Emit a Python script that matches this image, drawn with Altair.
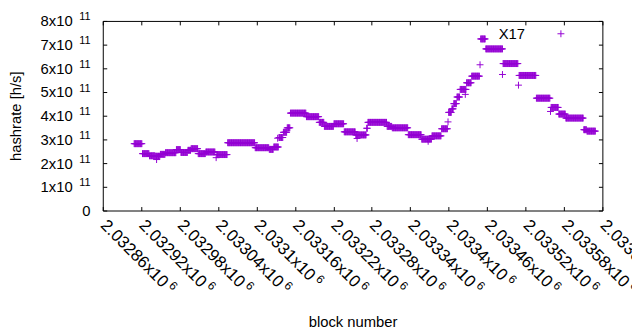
import altair as alt
import pandas as pd

BASE = 2032860  # first block on the x axis

# Runs of constant hashrate: first block offset, last block offset (inclusive), hashrate in 1e11 h/s
seg_start = [49, 62, 73, 82, 90, 98, 115, 122, 133, 138, 149, 161, 178, 195, 238, 260, 267, 275, 282, 288,
             293, 318, 338, 346, 361, 377, 395, 412, 414, 444, 452, 477, 498, 514, 529, 540, 545, 548, 553,
             558, 568, 576, 590, 598, 625, 650, 677, 700, 712, 723, 751, 756]
seg_end = [61, 72, 81, 89, 97, 114, 121, 132, 137, 148, 160, 175, 194, 237, 259, 266, 274, 281, 287, 292,
           317, 337, 345, 360, 376, 394, 411, 413, 443, 451, 476, 497, 513, 528, 538, 544, 547, 552, 557,
           567, 575, 588, 597, 624, 648, 676, 698, 711, 722, 750, 755, 769]
seg_value = [2.82, 2.40, 2.31, 2.29, 2.37, 2.44, 2.57, 2.45, 2.54, 2.61, 2.40, 2.47, 2.36, 2.86, 2.65, 2.58,
             2.68, 3.08, 3.30, 3.49, 4.11, 3.96, 3.72, 3.55, 3.66, 3.32, 3.19, 3.47, 3.72, 3.55, 3.49, 3.20,
             3.01, 3.15, 3.45, 4.14, 4.29, 4.51, 4.79, 5.11, 5.39, 5.67, 7.24, 6.82, 6.20, 5.70, 4.74, 4.35,
             4.07, 3.90, 3.41, 3.35]

# Isolated blocks off their run
iso_offset = [84, 177, 273, 397, 508, 539, 566, 589, 624, 649, 699]
iso_value = [2.15, 2.23, 3.05, 3.04, 2.92, 3.74, 4.90, 6.15, 5.74, 5.29, 4.18]

x_ticks = [2032860, 2032920, 2032980, 2033040, 2033100, 2033160, 2033220,
           2033280, 2033340, 2033400, 2033460, 2033520, 2033580, 2033640]
x_ticks_short = [2033100, 2033400]  # labels with one digit fewer (2.0331, 2.0334)
x_ticks_long = [t for t in x_ticks if t not in x_ticks_short]
y_ticks = [0, 1e11, 2e11, 3e11, 4e11, 5e11, 6e11, 7e11, 8e11]

rows = []
for s, e, v in zip(seg_start, seg_end, seg_value):
    for b in range(s, e + 1):
        rows.append({"block": BASE + b, "hashrate": v * 1e11, "series": "X17"})
for o, v in zip(iso_offset, iso_value):
    rows.append({"block": BASE + o, "hashrate": v * 1e11, "series": "X17"})
df = pd.DataFrame(rows)

PLUS = "M-1,0L1,0M0,-1L0,1"
COLOR = "#9400D3"
FONT = "Liberation Sans"
FS = 15
XFS = 17
SUP = 11
XSUP = 12

xscale = alt.Scale(domain=[x_ticks[0], x_ticks[-1]], nice=False, zero=False)
yscale = alt.Scale(domain=[y_ticks[0], y_ticks[-1]], nice=False)

x_label_expr = "format(datum.value / 1e6, '.6~g') + 'x10'"
y_label_expr = "datum.value == 0 ? '' : format(datum.value / 1e11, 'd') + 'x10'"

common = dict(domain=False, grid=False, labelOverlap=False, labelFlush=False, labelBound=False)

points = alt.Chart(df).mark_point(
    shape=PLUS, filled=False, size=49, strokeWidth=1, opacity=1
).encode(
    x=alt.X("block:Q", scale=xscale, axis=alt.Axis(
        orient="bottom", values=x_ticks, labelExpr=x_label_expr, labelAngle=45, labelAlign="left",
        labelBaseline="middle", labelPadding=12, labelFontSize=XFS, tickSize=0, ticks=False,
        title="block number", titlePadding=25, **common)),
    y=alt.Y("hashrate:Q", scale=yscale, axis=alt.Axis(
        orient="left", values=y_ticks, labelExpr=y_label_expr, tickSize=0, ticks=False,
        title="hashrate [h/s]", labelPadding=31, titlePadding=17, **common)),
    color=alt.Color("series:N", scale=alt.Scale(range=[COLOR]), legend=alt.Legend(
        title="X17", titleOrient="left", labelExpr="''", orient="none",
        legendX=401, legendY=8, symbolType=PLUS, symbolSize=49, symbolStrokeWidth=1,
        symbolOpacity=1, titlePadding=31, padding=0)),
)

# exponents of the tick labels (superscripts)
def sup_x_axis(vals, offset, padding):
    return alt.Axis(orient="bottom", values=vals, labelExpr="'6'", labelAngle=45, labelAlign="left",
                    labelBaseline="middle", labelFontSize=XSUP, labelOffset=offset,
                    labelPadding=padding, tickSize=0, ticks=False, title=None, **common)

sup_y_axis = alt.Axis(
    orient="left", values=y_ticks, labelExpr="datum.value == 0 ? '0' : '11'",
    labelFontSize={"condition": {"test": "datum.value == 0", "value": FS}, "value": SUP},
    labelOffset={"condition": {"test": "datum.value == 0", "value": 0}, "value": -4},
    labelPadding=13, tickSize=0, ticks=False, title=None, **common)

sup_a = alt.Chart(df).mark_point(opacity=0).encode(
    x=alt.X("block:Q", scale=xscale, axis=sup_x_axis(x_ticks_long, 68.6, 73.5)),
    y=alt.Y("hashrate:Q", scale=yscale, axis=sup_y_axis),
)
sup_b = alt.Chart(df).mark_point(opacity=0).encode(
    x=alt.X("block:Q", scale=xscale, axis=sup_x_axis(x_ticks_short, 61.9, 66.8)),
    y=alt.Y("hashrate:Q", scale=yscale, axis=None),
)

def tick_axis(orient, vals):
    return alt.Axis(orient=orient, offset=-4, values=vals, tickSize=4, labels=False,
                    domain=False, grid=False, title=None, ticks=True, tickColor="black",
                    tickWidth=1)

ticks_a = alt.Chart(df).mark_point(opacity=0).encode(
    x=alt.X("block:Q", scale=xscale, axis=tick_axis("bottom", x_ticks)),
    y=alt.Y("hashrate:Q", scale=yscale, axis=tick_axis("left", y_ticks)),
)
ticks_b = alt.Chart(df).mark_point(opacity=0).encode(
    x=alt.X("block:Q", scale=xscale, axis=tick_axis("top", x_ticks)),
    y=alt.Y("hashrate:Q", scale=yscale, axis=tick_axis("right", y_ticks)),
)

chart = alt.layer(points, sup_a, sup_b, ticks_a, ticks_b).resolve_axis(
    x="independent", y="independent"
).properties(
    width=506, height=192,
    autosize=alt.AutoSizeParams(type="none"),
    padding={"left": 96, "top": 11, "right": 30, "bottom": 125},
).configure(
    background="white", font=FONT
).configure_view(
    stroke="black", strokeWidth=1
).configure_axis(
    labelFont=FONT, labelFontSize=FS, labelColor="black",
    titleFont=FONT, titleFontSize=FS, titleColor="black", titleFontWeight="normal"
).configure_legend(
    titleFont=FONT, titleFontSize=FS, titleColor="black", titleFontWeight="normal",
    labelFont=FONT
)

chart.save("out.html", embed_options={"renderer": "svg", "actions": False})
